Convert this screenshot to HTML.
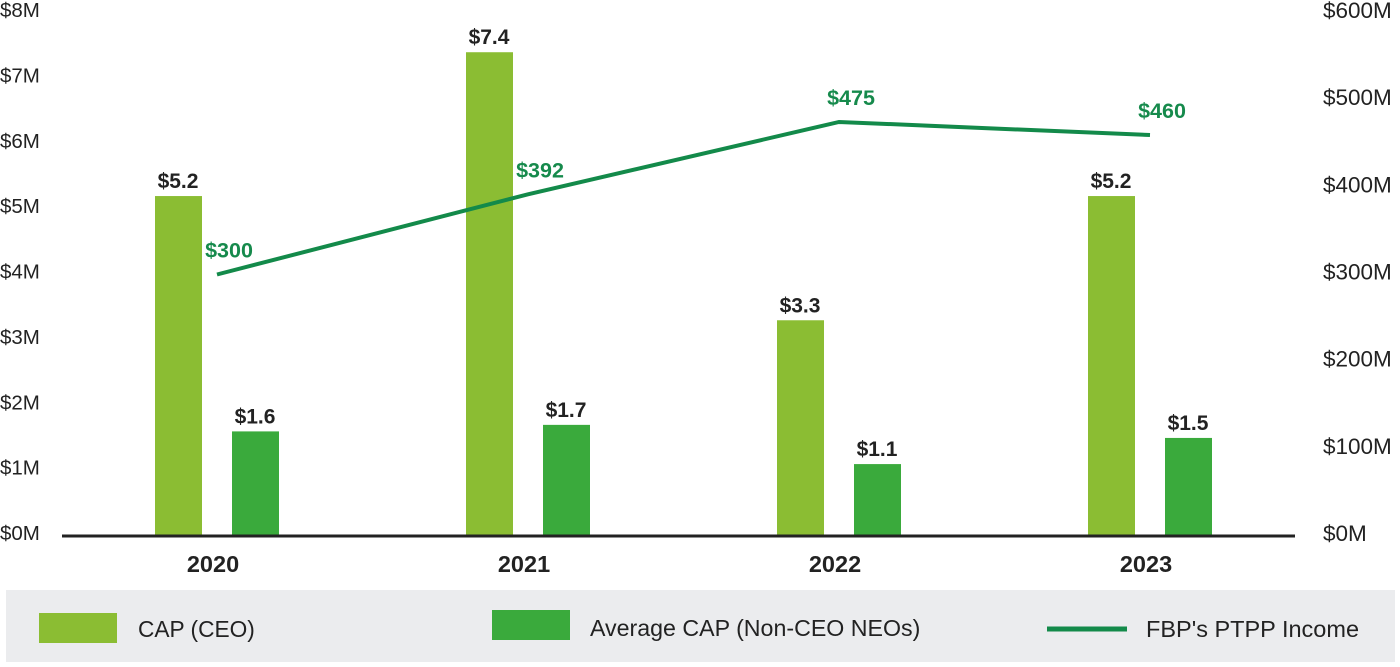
<!DOCTYPE html>
<html><head><meta charset="utf-8"><style>
body{margin:0;width:1400px;height:662px;background:#fff;overflow:hidden;font-family:"Liberation Sans",Arial,sans-serif}
svg text{font-family:"Liberation Sans",Arial,sans-serif}
</style></head><body>
<svg id="chart" width="1400" height="662" xmlns="http://www.w3.org/2000/svg">
<rect x="6" y="590" width="1389" height="72" fill="#ebecee"/>
<g id="yleft"></g>
<g id="yright"></g>
<g id="bars"></g>
<line x1="62" y1="536" x2="1295" y2="536" stroke="#222" stroke-width="3"/>
<g id="xlabels"></g>
<g id="line"></g>
<g>
<rect x="39" y="613" width="78" height="30" fill="#8bbd33"/>
<text x="138" y="637" font-size="22.7" fill="#222">CAP (CEO)</text>
<rect x="492" y="610" width="78" height="30" fill="#3aaa3c"/>
<text x="590" y="636" font-size="23.2" fill="#222">Average CAP (Non-CEO NEOs)</text>
<line x1="1047" y1="629" x2="1127" y2="629" stroke="#138a4a" stroke-width="5"/>
<text x="1146" y="637" font-size="23.5" fill="#222">FBP's PTPP Income</text>
</g>
</svg>
<script>
const categories=["2020","2021","2022","2023"];
const ceoValues=[5.2,7.4,3.3,5.2];
const neoValues=[1.6,1.7,1.1,1.5];
const ptppValues=[300,392,475,460];
const leftTicks=[0,1,2,3,4,5,6,7,8];
const rightTicks=[0,100,200,300,400,500,600];
const NS="http://www.w3.org/2000/svg";
const y0=536, yTop=13;
const yL=v=>y0-(v/8)*(y0-yTop);
const yR=v=>y0-(v/600)*(y0-yTop);
const xC=i=>217+i*311;
function mk(tag,attrs,parent,txt){const e=document.createElementNS(NS,tag);for(const k in attrs)e.setAttribute(k,attrs[k]);if(txt!==undefined)e.textContent=txt;parent.appendChild(e);return e;}
const gl=document.getElementById('yleft'),gr=document.getElementById('yright'),gb=document.getElementById('bars'),gx=document.getElementById('xlabels'),gline=document.getElementById('line');
leftTicks.forEach(t=>{const e=mk('text',{x:0,y:yL(t)+4,'font-size':20.5,fill:'#222'},gl,'$'+t+'M');

});
rightTicks.forEach(t=>{const e=mk('text',{x:1323,y:yR(t)+5,'font-size':22.5,fill:'#222'},gr,'$'+t+'M');

});
categories.forEach((c,i)=>{
const x=xC(i);
const b1=mk('rect',{x:x-62,y:yL(ceoValues[i]),width:47,height:y0-yL(ceoValues[i]),fill:'#8bbd33'},gb);


const l1=mk('text',{x:x-39,y:yL(ceoValues[i])-8,'font-size':21,'font-weight':'bold','text-anchor':'middle',fill:'#222'},gb,'$'+ceoValues[i].toFixed(1));


const b2=mk('rect',{x:x+15,y:yL(neoValues[i]),width:47,height:y0-yL(neoValues[i]),fill:'#3aaa3c'},gb);


const l2=mk('text',{x:x+38,y:yL(neoValues[i])-8,'font-size':21,'font-weight':'bold','text-anchor':'middle',fill:'#222'},gb,'$'+neoValues[i].toFixed(1));


const xl=mk('text',{x:x-4,y:572,'font-size':23.5,'font-weight':'bold','text-anchor':'middle',fill:'#222'},gx,c);


});
const pts=ptppValues.map((v,i)=>xC(i)+','+yR(v)).join(' ');
const pl=mk('polyline',{points:pts,fill:'none',stroke:'#138a4a','stroke-width':4},gline);


ptppValues.forEach((v,i)=>{
const t=mk('text',{x:xC(i)+12,y:yR(v)-17,'font-size':21.5,'font-weight':'bold','text-anchor':'middle',fill:'#168a4c'},gline,'$'+v);


});
</script>
</body></html>
